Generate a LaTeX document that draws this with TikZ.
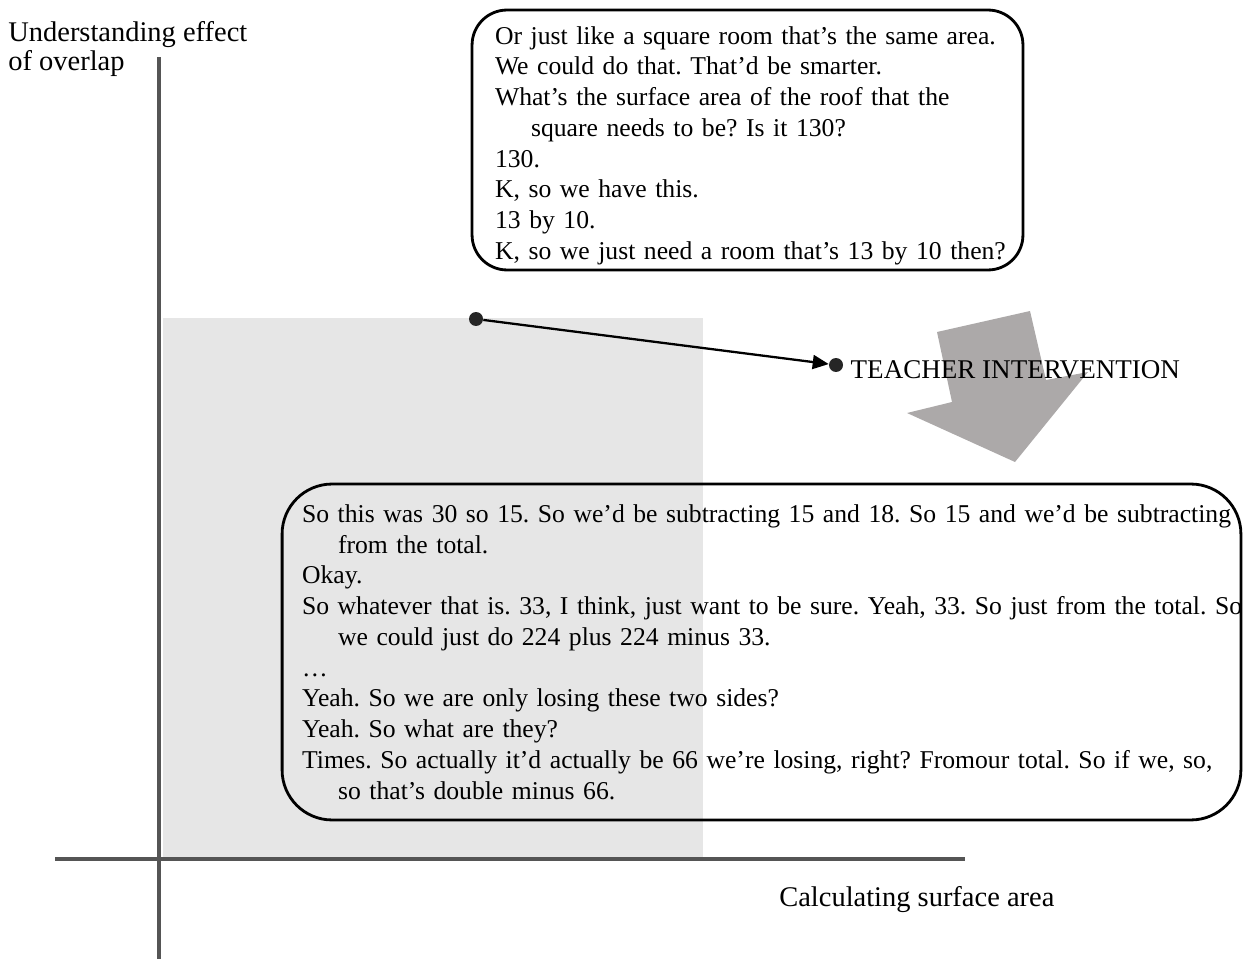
\documentclass[tikz,border=0pt]{standalone}
\usepackage{fontspec}
\setmainfont{Liberation Serif}
\usetikzlibrary{arrows.meta, positioning}
\definecolor{regiongray}{RGB}{230,230,230}
\definecolor{axisgray}{RGB}{85,85,85}
\definecolor{bigarrow}{RGB}{172,169,169}
\frenchspacing
\newcommand{\tline}[1]{\mbox{#1}}

\begin{document}
\begin{tikzpicture}[x=0.02cm, y=-0.02cm,
  every node/.style={font=\fontsize{14.6}{17.5}\selectfont},
  >={Triangle[length=3.2mm, width=2.8mm]},
  bubble/.style={draw, line width=1.6pt, rounded corners=#1, inner ysep=0pt, align=left},
  blob/.style={circle, fill=black!85, inner sep=0pt, minimum size=2.8mm},
  axis/.style={draw=axisgray, line width=1.9pt},
  axislabel/.style={font=\fontsize{16.2}{16.6}\selectfont, inner sep=0pt}]
  \useasboundingbox (0,0) rectangle (1244,959);

  % Shaded region behind the axes
  \fill[regiongray] (163,318) rectangle (703,857);

  % Axes
  \coordinate (ytop) at (159,57);
  \coordinate (ybot) at (159,959);
  \coordinate (xleft) at (55,859);
  \coordinate (xright) at (965,859);
  \draw[axis] (ybot) -- (ytop);
  \draw[axis] (xleft) -- (xright);
  \node[axislabel, anchor=north west, align=left] (ylabel) at (8,21) {Understanding effect\\of overlap};
  \node[axislabel, anchor=west] (xlabel) at (779,900) {Calculating surface area};

  % Big grey arrow (intervention)
  \fill[bigarrow] (937,332) -- (1030,311) -- (1046,380) -- (1088,372) -- (1015,462) -- (907,413) -- (952,402) -- cycle;

  % Talk before the intervention (top)
  \node[bubble=0.7cm, minimum width=11.02cm, minimum height=5.2cm, inner xsep=0.46cm, text width=10.1cm] (talkA) at (747.5,140) {%
    \tline{\rule{0pt}{16.5pt}Or just like a square room that’s the same area.}\\
    \tline{We could do that. That’d be smarter.}\\
    \tline{What’s the surface area of the roof that the}\\
    \tline{\hspace*{0.72cm}square needs to be? Is it 130?}\\
    \tline{130.}\\
    \tline{K, so we have this.}\\
    \tline{13 by 10.}\\
    \tline{K, so we just need a room that’s 13 by 10 then?}};

  % Talk after the intervention (bottom)
  \node[bubble=1cm, minimum width=19.18cm, minimum height=6.72cm, inner xsep=0.4cm, text width=18.38cm] (talkB) at (761.5,652) {%
    \tline{So this was 30 so 15. So we’d be subtracting 15 and 18. So 15 and we’d be subtracting}\\
    \tline{\hspace*{0.72cm}from the total.}\\
    \tline{Okay.}\\
    \tline{So whatever that is. 33, I think, just want to be sure. Yeah, 33. So just from the total. So}\\
    \tline{\hspace*{0.72cm}we could just do 224 plus 224 minus 33.}\\
    \tline{…}\\
    \tline{Yeah. So we are only losing these two sides?}\\
    \tline{Yeah. So what are they?}\\
    \tline{Times. So actually it’d actually be 66 we’re losing, right? Fromour total. So if we, so,}\\
    \tline{\hspace*{0.72cm}so that’s double minus 66.}};

  % Path to the intervention point
  \node[blob] (start) at (476,319) {};
  \node[blob] (stop) at (836,365) {};
  \draw[->, line width=1.3pt] (start) -- (stop);
  \node[right=0.14cm of stop, yshift=-0.1cm, inner sep=0pt, font=\fontsize{15.4}{17}\selectfont] (intervention) {TEACHER INTERVENTION};
\end{tikzpicture}
\end{document}
